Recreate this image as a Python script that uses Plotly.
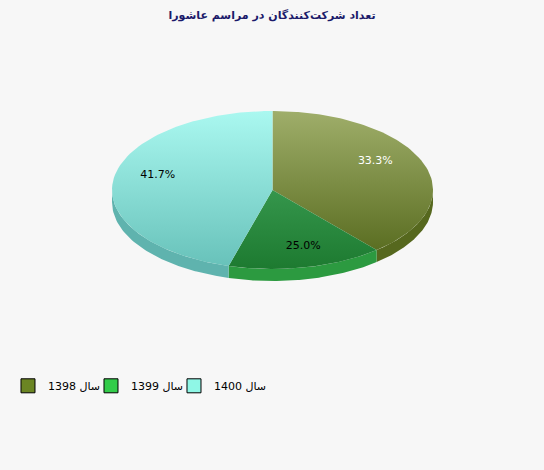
import numpy as np
import plotly.graph_objects as go

# data
years = ["سال 1398", "سال 1399", "سال 1400"]
counts = [4, 3, 5]
top_light = ["#9fae6a", "#35964c", "#aaf8f0"]
top_dark = ["#5b6e22", "#1d7a30", "#68c2ba"]
side_colors = ["#56681e", "#2c9a40", "#5fb3ae"]
legend_colors = ["#6b8523", "#33cc4a", "#8ff7e6"]
label_colors = ["white", "black", "black"]

W, H = 544, 470
cx, cy, rx, ry, depth = 272.5, 190, 160.5, 79, 12


def edge(phi, dy=0):
    # point on the ellipse rim in screen direction phi (clockwise from up)
    s, c = np.sin(phi), np.cos(phi)
    r = 1 / np.sqrt((s / rx) ** 2 + (c / ry) ** 2)
    return cx + r * s, cy - r * c + dy


fig = go.Figure()
total = sum(counts)
start = 0.0
bounds = []
for v in counts:
    end = start + 2 * np.pi * v / total
    bounds.append((start, end))
    start = end

# side walls (front half only)
for i, (a, b) in enumerate(bounds):
    lo, hi = max(a, np.pi / 2), min(b, 3 * np.pi / 2)
    if hi <= lo:
        continue
    t = np.linspace(lo, hi, 80)
    x1, y1 = edge(t)
    x2, y2 = edge(t[::-1], depth)
    fig.add_trace(go.Scatter(
        x=np.r_[x1, x2], y=np.r_[y1, y2], fill="toself", mode="lines",
        line=dict(width=0), fillcolor=side_colors[i], hoverinfo="skip",
        showlegend=False))

# top faces
for i, (a, b) in enumerate(bounds):
    t = np.linspace(a, b, 120)
    x, y = edge(t)
    fig.add_trace(go.Scatter(
        x=np.r_[cx, x, cx], y=np.r_[cy, y, cy], fill="toself", mode="lines",
        line=dict(width=0),
        fillgradient=dict(type="vertical",
                          colorscale=[[0, top_dark[i]], [1, top_light[i]]]),
        name=years[i], hoverinfo="skip", showlegend=False))

# percentage labels
for i, (a, b) in enumerate(bounds):
    m = (a + b) / 2
    k = 0.74
    fig.add_trace(go.Scatter(
        x=[cx + k * rx * np.sin(m)], y=[cy - k * ry * np.cos(m)],
        mode="text", text=[f"{100 * counts[i] / total:.1f}%"],
        textfont=dict(family="DejaVu Sans", size=11, color=label_colors[i]),
        hoverinfo="skip", showlegend=False))

# legend entries
for i, name in enumerate(years):
    fig.add_trace(go.Scatter(
        x=[None], y=[None], mode="markers", name="\u202b" + name + "\u202c",
        marker=dict(symbol="square", size=14, color=legend_colors[i],
                    line=dict(color="black", width=1))))
# empty spacer so the last legend label is not cut off
fig.add_trace(go.Scatter(
    x=[None], y=[None], mode="markers", name=" ",
    marker=dict(size=1, color="rgba(0,0,0,0)", line=dict(width=0))))

fig.update_layout(
    width=W, height=H,
    margin=dict(l=0, r=0, t=0, b=0),
    paper_bgcolor="#f7f7f7", plot_bgcolor="#f7f7f7",
    xaxis=dict(range=[0, W], visible=False, fixedrange=True),
    yaxis=dict(range=[H, 0], visible=False, fixedrange=True),
    title=dict(text="<b>تعداد شرکت‌کنندگان در مراسم عاشورا</b>",
               x=0.5, y=0.976, xanchor="center", yanchor="top",
               font=dict(family="DejaVu Sans", size=11, color="#1b1a6a")),
    legend=dict(orientation="h", x=0.0147, y=0.21, xanchor="left", yanchor="top",
                itemwidth=30, entrywidth=38,
                font=dict(family="DejaVu Sans", size=11, color="black"),
                bgcolor="rgba(0,0,0,0)", itemclick=False),
    showlegend=True,
)

fig.write_html("out.html", config={"displayModeBar": False},
               post_script="document.body.style.margin='0';"
                           "document.body.style.background='#f7f7f7';")
